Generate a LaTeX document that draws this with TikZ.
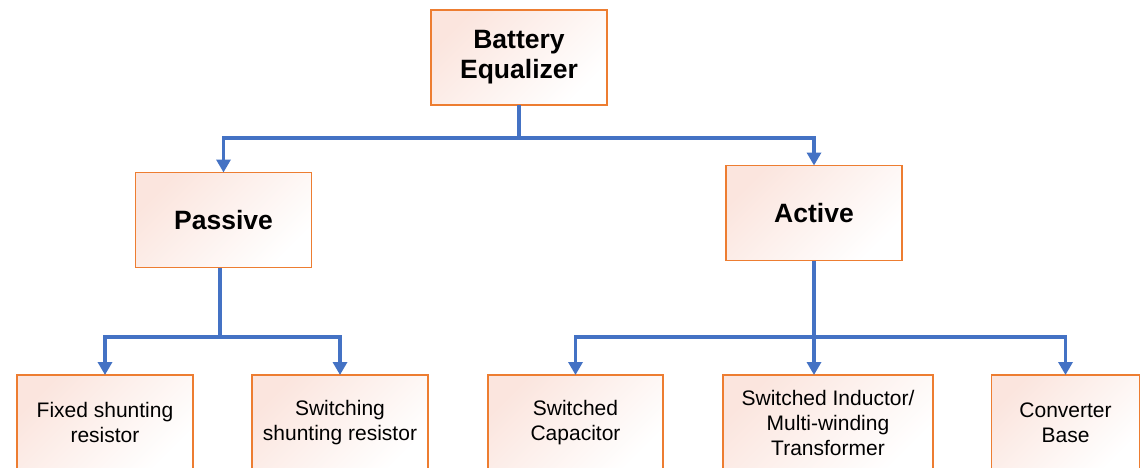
\documentclass[tikz,border=0pt]{standalone}
\usepackage{fontspec}
\setmainfont{Liberation Sans}
\usetikzlibrary{arrows.meta,calc}
\definecolor{boxline}{HTML}{ED7D31}
\definecolor{boxpink}{RGB}{251,229,222}
\definecolor{connblue}{HTML}{4472C4}
\tikzset{
  box/.style={draw=boxline, line width=1.5pt, top color=boxpink, bottom color=white,
    shading angle=45, minimum width=176pt, minimum height=95pt, align=center,
    inner sep=0pt, outer sep=0pt},
  bigtxt/.style={font=\fontsize{26.5}{30}\selectfont\bfseries},
  smalltxt/.style={font=\fontsize{21}{25}\selectfont},
  conn/.style={draw=connblue, line width=3.5pt},
  arr/.style={conn, -{Triangle[width=14pt,length=13pt]}}
}
\begin{document}
\begin{tikzpicture}[x=1pt,y=-1pt]
\clip (0,0) rectangle (1142,467);
\fill[white] (0,0) rectangle (1142,467);
% boxes
\node[box,bigtxt] (bat) at (519,57.5) {Battery\\Equalizer\rule[-7pt]{0pt}{7pt}};
\node[box,bigtxt] (pas) at (223.5,220) {Passive};
\node[box,bigtxt] (act) at (814,213) {Active};
\node[box,smalltxt] (fix) at (105,422.5) {Fixed shunting\\resistor};
\node[box,smalltxt] (sws) at (340,422.5) {Switching\\shunting resistor};
\node[box,smalltxt,minimum width=175pt] (swc) at (575.5,422.5) {Switched\\Capacitor};
\node[box,smalltxt,minimum width=210pt] (ind) at (828,422.5) {Switched Inductor/\\Multi-winding\\Transformer};
\node[box,smalltxt,minimum width=148pt] (con) at (1065.5,422.5) {Converter\\Base};
% junctions
\coordinate (j1) at (519,138);
\coordinate (j2) at (220,337);
\coordinate (j3) at (814,337);
% connectors
\draw[conn] (bat.south) -- (j1);
\draw[arr] (j1) -| (pas.north);
\draw[arr] (j1) -| (act.north);
\draw[conn] (pas.south -| j2) -- (j2);
\draw[arr] (j2) -| (fix.north);
\draw[arr] (j2) -| (sws.north);
\draw[conn] (act.south) -- (j3);
\draw[arr] (j3) -| (swc.north);
\draw[arr] (j3) -- (j3 |- ind.north);
\draw[arr] (j3) -| (con.north);
\end{tikzpicture}
\end{document}
